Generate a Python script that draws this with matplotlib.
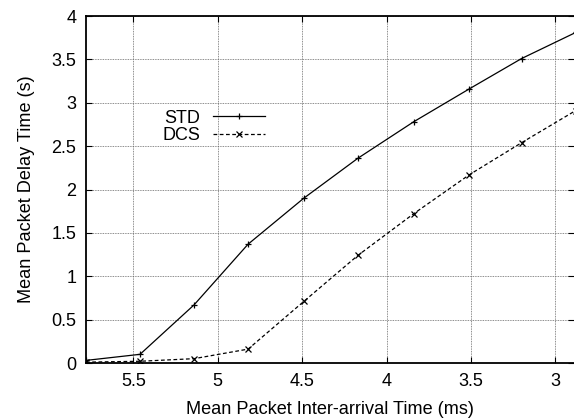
import matplotlib
matplotlib.use("Agg")
import matplotlib.pyplot as plt

plt.rcParams['font.family'] = ['Liberation Sans', 'DejaVu Sans']

# Data
inter_arrival = [5.78, 5.46, 5.14, 4.82, 4.49, 4.17, 3.84, 3.51, 3.20, 2.88]
std_delay = [0.03, 0.10, 0.67, 1.37, 1.90, 2.36, 2.78, 3.16, 3.51, 3.81]
dcs_delay = [0.01, 0.02, 0.05, 0.16, 0.71, 1.24, 1.72, 2.17, 2.54, 2.91]
xticks = [5.5, 5, 4.5, 4, 3.5, 3]
yticks = [0, 0.5, 1, 1.5, 2, 2.5, 3, 3.5, 4]

fig = plt.figure(figsize=(5.74, 4.18), dpi=100)
ax = fig.add_axes([86/574, 1-363/418, 488/574, 347/418])

ax.plot(inter_arrival, std_delay, color='black', lw=0.9, marker='+',
        markersize=5, markeredgewidth=0.9, label='STD')
ax.plot(inter_arrival, dcs_delay, color='black', lw=0.9, marker='x',
        markersize=4, markeredgewidth=0.9, linestyle=(0, (3, 2)), label='DCS')

ax.set_xlim(5.78, 2.89)
ax.set_ylim(0, 4)
ax.set_xticks(xticks)
ax.set_xticklabels([f"{t:g}" for t in xticks])
ax.set_yticks(yticks)
ax.set_yticklabels([f"{t:g}" for t in yticks])

ax.grid(True, color='#666666', linestyle=(0, (1, 1)), linewidth=0.6)
ax.tick_params(direction='in', top=True, right=True, length=4, width=0.8,
               labelsize=13, pad=7, colors='black')
for s in ['left', 'bottom', 'top']:
    ax.spines[s].set_linewidth(1.3)
ax.spines['right'].set_visible(False)

ax.set_xlabel('Mean Packet Inter-arrival Time (ms)', fontsize=13.1, labelpad=8)
ax.set_ylabel('Mean Packet Delay Time (s)', fontsize=13.1, labelpad=12)

leg = ax.legend(loc='center right', bbox_to_anchor=((265-86)/488, (363-127)/347),
                frameon=False, markerfirst=False, fontsize=13,
                handlelength=2.9, handletextpad=0.7, labelspacing=0.05,
                borderpad=0, borderaxespad=0)

fig.savefig('out.png', dpi=100)
